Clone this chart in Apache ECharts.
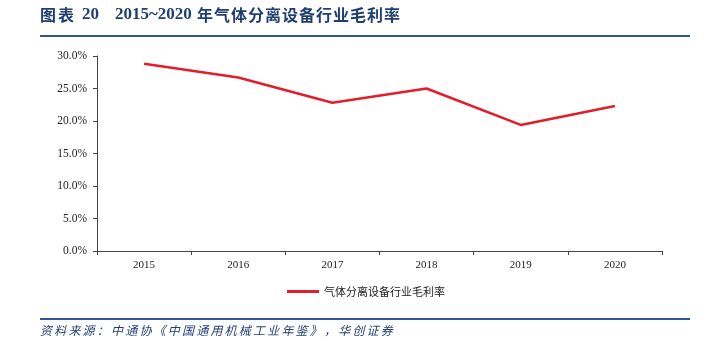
<!DOCTYPE html>
<html>
<head>
<meta charset="utf-8">
<script src="https://cdn.jsdelivr.net/npm/echarts@6/dist/echarts.min.js"></script>
<style>
  html, body { margin: 0; padding: 0; background: #fff; }
  #chart { width: 716px; height: 343px; }
</style>
</head>
<body>
<div id="chart"></div>
<script>
// Gross margin of the gas separation equipment industry, 2015-2020
const years = ['2015', '2016', '2017', '2018', '2019', '2020'];
const grossMargin = [28.8, 26.7, 22.8, 25.0, 19.4, 22.3];
const seriesName = '气体分离设备行业毛利率';
const titleLabel = '图表';
const titleNumber = '20';
const titleRange = '2015~2020';
const titleSubject = '年气体分离设备行业毛利率';
const sourceText = '资料来源：中通协《中国通用机械工业年鉴》，华创证券';

const serif = '"Liberation Serif", "Times New Roman", serif';
const cjk = '"Noto Sans CJK SC", sans-serif';
const navy = '#1f3f73';

// Lay out a string one glyph at a time with a fixed pitch (tracked CJK text).
function spacedText(str, x, y, pitch, font, fill) {
  return Array.from(str).map((ch, i) => ({
    type: 'text', x: x + i * pitch, y: y,
    style: { text: ch, font: font, fill: fill, textVerticalAlign: 'middle' }
  }));
}

const titleCjkFont = 'bold 16px ' + cjk;
const titleSerifFont = 'bold 17px ' + serif;

const chart = echarts.init(document.getElementById('chart'), null, { renderer: 'canvas' });
chart.setOption({
  animation: false,
  backgroundColor: '#fff',
  grid: { left: 97, right: 54, top: 56, bottom: 92 },
  legend: {
    data: [seriesName],
    top: 286,
    left: 287,
    padding: 0,
    itemWidth: 32,
    itemHeight: 3,
    icon: 'rect',
    itemGap: 4,
    textStyle: { fontFamily: cjk, fontSize: 11, color: '#222' }
  },
  xAxis: {
    type: 'category',
    data: years,
    boundaryGap: true,
    axisLine: { lineStyle: { color: '#444', width: 1 } },
    axisTick: { show: true, length: 4, lineStyle: { color: '#444' } },
    axisLabel: { fontFamily: serif, fontSize: 11, color: '#222', margin: 9 }
  },
  yAxis: {
    type: 'value',
    min: 0,
    max: 30,
    interval: 5,
    splitLine: { show: false },
    axisLine: { show: true, lineStyle: { color: '#444', width: 1 } },
    axisTick: { show: true, length: 4, lineStyle: { color: '#444' } },
    axisLabel: {
      fontFamily: serif, fontSize: 11.5, color: '#222', margin: 10,
      formatter: v => v.toFixed(1) + '%'
    }
  },
  series: [{
    name: seriesName,
    type: 'line',
    data: grossMargin,
    symbol: 'none',
    lineStyle: { color: '#e31d2b', width: 2.5 },
    itemStyle: { color: '#e31d2b' }
  }],
  graphic: [
    ...spacedText(titleLabel, 40, 15, 18, titleCjkFont, navy),
    {
      type: 'text', x: 82, y: 15,
      style: { text: titleNumber, font: titleSerifFont, fill: navy, textVerticalAlign: 'middle' }
    },
    {
      type: 'text', x: 115, y: 15,
      style: { text: titleRange, font: titleSerifFont, fill: navy, textVerticalAlign: 'middle' }
    },
    ...spacedText(titleSubject, 197, 15, 17, titleCjkFont, navy),
    {
      type: 'rect', shape: { x: 40, y: 35, width: 650, height: 2 },
      style: { fill: '#2f5597' }
    },
    {
      type: 'rect', shape: { x: 40, y: 318, width: 650, height: 2 },
      style: { fill: '#2f5597' }
    },
    ...spacedText(sourceText, 40, 330, 14.2, 'italic 12px ' + cjk, navy)
  ]
});
</script>
</body>
</html>
